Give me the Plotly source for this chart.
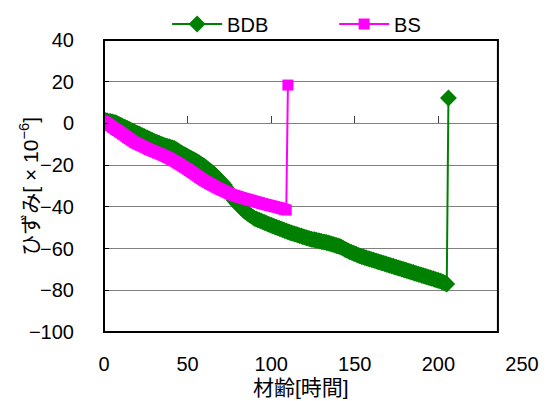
import plotly.graph_objects as go

# Strain readings, one per hour of age, plus the final reading of each specimen
bdb_strain = [
    1.5, 1.4, 1.2, 1.0, 0.9, 0.7, 0.5, 0.3,
    -0.1, -0.5, -0.9, -1.3, -1.7, -2.0, -2.4, -2.8, -3.2, -3.6, -4.0,
    -4.4, -4.8, -5.1, -5.5, -5.9, -6.3, -6.7, -7.0, -7.4, -7.8, -8.2, -8.6,
    -8.9, -9.2, -9.5, -9.9, -10.2, -10.5,
    -10.8, -11.0, -11.2, -11.5, -11.7, -12.0,
    -12.5, -13.0, -13.5, -14.0, -14.5, -15.0,
    -15.4, -15.8, -16.3, -16.7, -17.1, -17.5,
    -18.0, -18.5, -19.0, -19.5, -20.0, -20.5,
    -21.2, -21.8, -22.5, -23.2, -23.8, -24.5,
    -25.3, -26.2, -27.0, -27.8, -28.7, -29.5,
    -30.8, -32.0, -33.3, -34.5, -35.8, -37.0,
    -37.8, -38.7, -39.5, -40.3, -41.2, -42.0,
    -42.6, -43.2, -43.8, -44.3, -44.9, -45.5,
    -45.8, -46.2, -46.5, -46.8, -47.2, -47.5,
    -47.8, -48.2, -48.5, -48.8, -49.2, -49.5,
    -49.8, -50.1, -50.4, -50.7, -51.0, -51.3, -51.6, -51.9, -52.2,
    -52.5, -52.7, -53.0, -53.2, -53.5, -53.8, -54.0, -54.3, -54.5, -54.8, -55.0, -55.3,
    -55.5, -55.7, -55.8, -56.0, -56.2, -56.4, -56.6, -56.8, -56.9, -57.1, -57.3, -57.5,
    -57.8, -58.0, -58.3, -58.5, -58.8, -59.0,
    -59.4, -59.8, -60.3, -60.7, -61.1, -61.5,
    -61.8, -62.2, -62.5, -62.8, -63.2, -63.5,
    -63.8, -64.0, -64.3, -64.5, -64.8, -65.0, -65.3, -65.5, -65.8, -66.0, -66.3, -66.5,
    -66.8, -67.0, -67.3, -67.5, -67.8, -68.0, -68.3, -68.5, -68.8, -69.0, -69.3, -69.5,
    -69.8, -70.0, -70.3, -70.5, -70.8, -71.0, -71.3, -71.5, -71.8, -72.0, -72.3, -72.5,
    -72.8, -73.0, -73.3, -73.5, -73.8, -74.0, -74.3, -74.5, -74.8, -75.0, -75.3, -75.5,
    -75.9, -76.2, -76.6, -77.0,
    12.2,
]
bdb_hours = list(range(0, 206)) + [206]

bs_strain = [
    1.0, 0.4, -0.1, -0.7, -1.2, -1.8,
    -2.3, -2.9, -3.4, -4.0, -4.5,
    -5.1, -5.6, -6.2, -6.8, -7.3, -7.9, -8.4, -9.0,
    -9.4, -9.8, -10.2, -10.6, -10.9, -11.3, -11.7, -12.1, -12.5,
    -12.8, -13.2, -13.5, -13.8, -14.2, -14.5, -14.8, -15.2, -15.5,
    -15.9, -16.3, -16.7, -17.2, -17.6, -18.0,
    -18.5, -19.0, -19.5, -20.0, -20.5, -21.0, -21.5, -22.0,
    -22.6, -23.1, -23.7, -24.2, -24.8, -25.3, -25.9, -26.4, -27.0, -27.5,
    -27.9, -28.4, -28.8, -29.3, -29.7, -30.1, -30.6, -31.0,
    -31.4, -31.8, -32.1, -32.5, -32.9, -33.3, -33.6, -34.0,
    -34.3, -34.5, -34.8, -35.0, -35.3, -35.5, -35.8, -36.0,
    -36.2, -36.5, -36.7, -36.9, -37.1, -37.4, -37.6, -37.8, -38.0, -38.3, -38.5,
    -38.7, -38.9, -39.1, -39.3, -39.5, -39.7, -39.9, -40.1, -40.3, -40.5,
    -40.8, -41.0, -41.3, -41.5,
    18.4,
]
bs_hours = list(range(0, 110)) + [110]

x_ticks = [0, 50, 100, 150, 200, 250]
y_ticks = [-100, -80, -60, -40, -20, 0, 20, 40]

FONT = "Liberation Sans, Arial, Noto Sans CJK JP, sans-serif"
X_MAX = 235.6    # right edge of the framed plot area, in hours
PLOT_H = 328     # height of the paper area between the margins, px
FRAME_H = 292    # height of the framed plot, px

fig = go.Figure()
fig.add_trace(go.Scatter(
    x=bdb_hours, y=bdb_strain, name="BDB", mode="lines+markers",
    line=dict(color="#008000", width=2),
    marker=dict(symbol="diamond", size=13, color="#008000", line=dict(width=0)),
))
fig.add_trace(go.Scatter(
    x=bs_hours, y=bs_strain, name="BS", mode="lines+markers",
    line=dict(color="#FF00FF", width=2),
    marker=dict(symbol="square", size=11, color="#FF00FF", line=dict(width=0)),
))
# carrier for the labelled time axis (its own invisible y axis, so no extra grid)
fig.add_trace(go.Scatter(x=[], y=[], xaxis="x2", yaxis="y2",
                         showlegend=False, hoverinfo="skip"))

fig.update_layout(
    width=550, height=401,
    margin=dict(l=104, r=28, t=4, b=69, autoexpand=False),
    paper_bgcolor="white", plot_bgcolor="rgba(0,0,0,0)",
    font=dict(family=FONT, size=20, color="black"),
    showlegend=True,
    legend=dict(
        orientation="h", x=0.151, xanchor="left",
        y=(PLOT_H - 20) / PLOT_H, yanchor="middle",
        entrywidth=102, entrywidthmode="pixels",
        font=dict(size=20), bgcolor="rgba(0,0,0,0)", itemwidth=50,
    ),
    xaxis=dict(
        domain=[0, X_MAX / 250], range=[0, X_MAX],
        anchor="free", position=(100 / 140) * FRAME_H / PLOT_H,
        tickvals=x_ticks, ticks="inside", ticklen=7, tickwidth=1, tickcolor="#404040",
        showticklabels=False, showgrid=False, zeroline=False, showline=False,
        automargin=False,
    ),
    xaxis2=dict(
        domain=[0, 1], range=[0, 250], anchor="y2",
        tickvals=x_ticks, ticks="", showline=False, showgrid=False, zeroline=False,
        ticklabelstandoff=18, automargin=False,
    ),
    yaxis=dict(
        domain=[0, FRAME_H / PLOT_H], range=[-100, 40], anchor="x",
        tickvals=y_ticks, ticks="inside", ticklen=5, tickcolor="black",
        showgrid=True, gridcolor="#808080", gridwidth=1,
        zeroline=False, showline=False, ticklabelstandoff=29, automargin=False,
    ),
    yaxis2=dict(
        overlaying="y", range=[-100, 40], anchor="x2",
        visible=False, showgrid=False, zeroline=False, automargin=False,
    ),
    shapes=[dict(
        type="rect", xref="x domain", yref="y domain",
        x0=0, x1=1, y0=0, y1=1, line=dict(color="black", width=2),
        layer="above",
    )],
    annotations=[
        dict(
            text="材齢[時間]", xref="x domain", yref="paper",
            x=0.5, y=-55 / PLOT_H, xanchor="center", yanchor="middle",
            showarrow=False, font=dict(size=21),
        ),
        dict(
            text="ひずみ[ × 10<sup>−6</sup>]", xref="paper", yref="y domain",
            x=-0.18, y=0.5, xanchor="center", yanchor="middle",
            textangle=-90, showarrow=False, font=dict(size=21),
        ),
    ],
)

fig.write_html("out.html")
